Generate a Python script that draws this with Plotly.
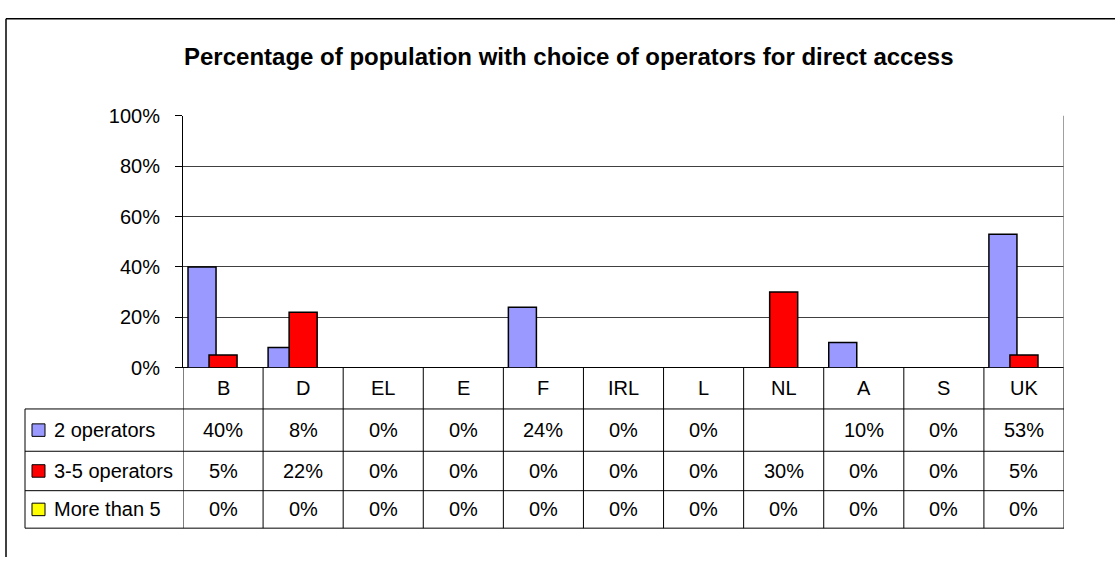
import plotly.graph_objects as go

categories = ["B", "D", "EL", "E", "F", "IRL", "L", "NL", "A", "S", "UK"]
series_names = ["2 operators", "3-5 operators", "More than 5"]
two_ops = [40, 8, 0, 0, 24, 0, 0, None, 10, 0, 53]
three_five_ops = [5, 22, 0, 0, 0, 0, 0, 30, 0, 0, 5]
more_than_5 = [0, 0, 0, 0, 0, 0, 0, 0, 0, 0, 0]
series_values = [two_ops, three_five_ops, more_than_5]
series_colors = ["#9999FF", "#FF0000", "#FFFF00"]
y_ticks = [0, 20, 40, 60, 80, 100]
title_text = "Percentage of population with choice of operators for direct access"

W, H = 1115, 568
FONT = "Liberation Sans, Arial, sans-serif"

def px(x):
    return x / W

def py(y):
    return 1 - y / H

PLOT_L, PLOT_R, PLOT_T, PLOT_B = 183, 1064, 109, 371
ROW_LINES = [414, 458, 499, 538]
ROW_CENTERS = [436, 478.5, 518.5]
CAT_ROW_Y = 392
TABLE_L = 25

fig = go.Figure()
bar_w = 0.35
step = 0.2625
for k, (name, vals, col) in enumerate(zip(series_names, series_values, series_colors)):
    fig.add_trace(go.Bar(
        x=categories, y=vals, name=name,
        width=bar_w, offset=-0.4375 + k * step,
        marker=dict(color=col, line=dict(color="black", width=1.5)),
        showlegend=False,
    ))

shapes = []
line_black = dict(color="black", width=1)
# outer frame (only left and top edges fall inside the view)
frame = dict(color="black", width=1.5)
shapes.append(dict(type="line", xref="paper", yref="paper",
                   x0=px(6), x1=px(6), y0=0, y1=py(8), line=frame))
shapes.append(dict(type="line", xref="paper", yref="paper",
                   x0=px(6), x1=1, y0=py(8), y1=py(8), line=frame))
# vertical category lines in table
n = len(categories)
for i in range(n + 1):
    shapes.append(dict(type="line", xref="x", yref="paper",
                       x0=i - 0.5, x1=i - 0.5, y0=py(PLOT_B), y1=py(ROW_LINES[-1]),
                       line=line_black))
# right plot border
shapes.append(dict(type="line", xref="x", yref="paper",
                   x0=n - 0.5, x1=n - 0.5, y0=py(PLOT_T), y1=py(PLOT_B),
                   line=dict(color="#808080", width=1.5)))
# horizontal table lines
for yl in ROW_LINES:
    shapes.append(dict(type="line", xref="paper", yref="paper",
                       x0=px(TABLE_L), x1=px(PLOT_R), y0=py(yl), y1=py(yl),
                       line=line_black))
shapes.append(dict(type="line", xref="paper", yref="paper",
                   x0=px(TABLE_L), x1=px(TABLE_L), y0=py(ROW_LINES[0]), y1=py(ROW_LINES[-1]),
                   line=line_black))
# legend keys
for k, col in enumerate(series_colors):
    cy = ROW_CENTERS[k]
    shapes.append(dict(type="rect", xref="paper", yref="paper",
                       x0=px(32), x1=px(45), y0=py(cy + 6.5), y1=py(cy - 6.5),
                       fillcolor=col, line=dict(color="black", width=1)))

annotations = []
annotations.append(dict(text="<b>" + title_text + "</b>", xref="paper", yref="paper",
                        x=px(568.5), y=py(47), xanchor="center", yanchor="middle",
                        showarrow=False, font=dict(family=FONT, size=24, color="black")))
for c in categories:
    annotations.append(dict(text=c, xref="x", yref="paper", x=c, y=py(CAT_ROW_Y),
                            xanchor="center", yanchor="middle", showarrow=False,
                            font=dict(family=FONT, size=20, color="black")))
for k, (name, vals) in enumerate(zip(series_names, series_values)):
    cy = ROW_CENTERS[k]
    annotations.append(dict(text=name, xref="paper", yref="paper", x=px(52), y=py(cy),
                            xanchor="left", yanchor="middle", showarrow=False,
                            font=dict(family=FONT, size=20, color="black")))
    for c, v in zip(categories, vals):
        annotations.append(dict(text="" if v is None else f"{v}%", xref="x", yref="paper",
                                x=c, y=py(cy), xanchor="center", yanchor="middle",
                                showarrow=False,
                                font=dict(family=FONT, size=20, color="black")))

fig.update_layout(
    width=W, height=H,
    margin=dict(l=0, r=0, t=0, b=0),
    paper_bgcolor="white", plot_bgcolor="white",
    barmode="overlay",
    xaxis=dict(domain=[px(PLOT_L), px(PLOT_R)], range=[-0.5, n - 0.5],
               type="category", categoryorder="array", categoryarray=categories,
               showticklabels=False, showgrid=False, showline=False, zeroline=False,
               ticks=""),
    yaxis=dict(domain=[py(PLOT_B), py(PLOT_T)], range=[0, 100],
               tickvals=y_ticks, ticktext=[f"{t}%" for t in y_ticks],
               showgrid=True, gridcolor="#404040", gridwidth=1,
               zeroline=True, zerolinecolor="black", zerolinewidth=1,
               showline=True, linecolor="black", linewidth=1,
               ticks="outside", ticklen=7, tickcolor="black",
               ticklabelstandoff=11,
               tickfont=dict(family=FONT, size=20, color="black")),
    shapes=shapes,
    annotations=annotations,
    showlegend=False,
)

fig.write_html("out.html", config={"displayModeBar": False},
               post_script="document.body.style.margin='0';document.body.style.overflow='hidden';")
